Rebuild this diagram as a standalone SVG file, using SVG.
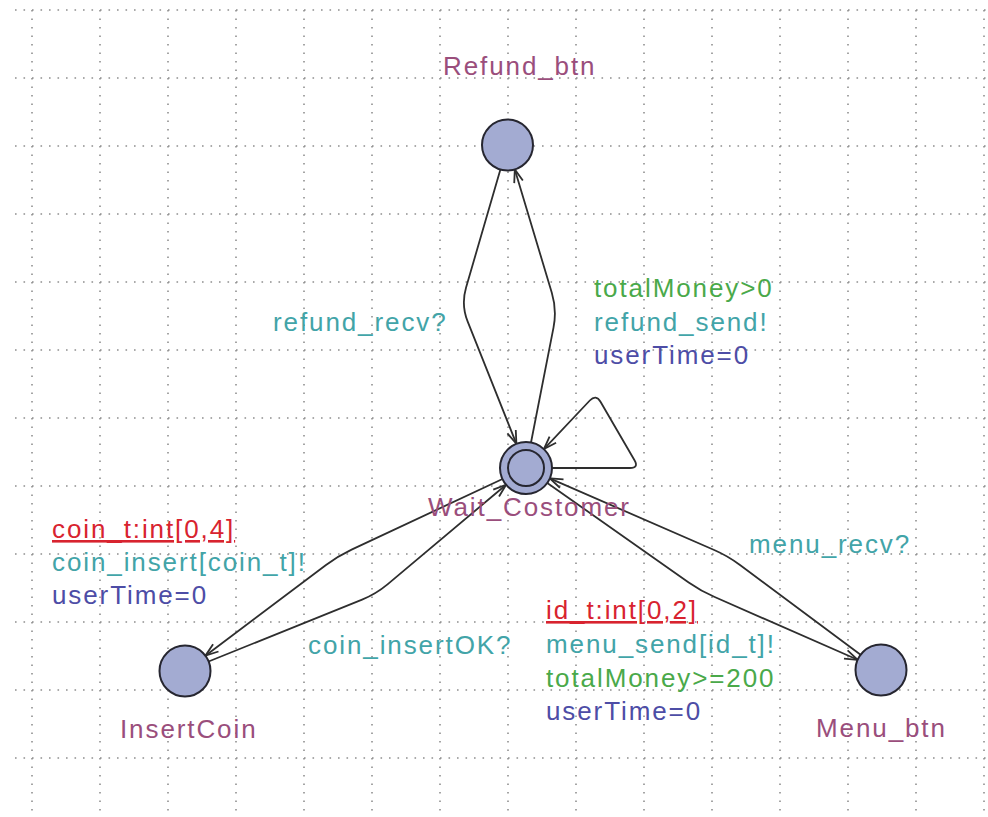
<svg xmlns="http://www.w3.org/2000/svg" width="988" height="817" viewBox="0 0 988 817">
  <defs>
    <style>
      .grid{fill:none;stroke:#8f8f8f;stroke-width:1.6;stroke-dasharray:1.6 6.9}
      .loc{fill:#a3abd2;stroke:#262630;stroke-width:2}
      .edge{fill:none;stroke:#2e2e2e;stroke-width:1.8;marker-end:url(#arr)}
      text{font-family:"Liberation Sans",Arial,sans-serif;font-size:26px;letter-spacing:1.9px}
      .name{fill:#9a4e7c}
      .sel{fill:#d8232f;text-decoration:underline}
      .sync{fill:#42a4a8}
      .guard{fill:#4aa94a}
      .assign{fill:#4d4da6}
    </style>
    <marker id="arr" markerUnits="userSpaceOnUse" markerWidth="20" markerHeight="20" viewBox="-15 -10 20 20" refX="0" refY="0" orient="auto" overflow="visible">
      <path d="M-13,-4.5 L0,0 L-13,4.5" fill="none" stroke="#2e2e2e" stroke-width="1.8"/>
    </marker>
  </defs>

  <rect width="988" height="817" fill="#ffffff"/>

  <!-- editor grid -->
  <g id="grid" class="grid">
    <path d="M15,10H988M15,78H988M15,146H988M15,214H988M15,282H988M15,350H988M15,418H988M15,486H988M15,554H988M15,622H988M15,690H988M15,758H988"/>
    <path d="M32,10V817M100,10V817M168,10V817M236,10V817M304,10V817M372,10V817M440,10V817M508,10V817M576,10V817M644,10V817M712,10V817M780,10V817M848,10V817M916,10V817M984,10V817"/>
  </g>

  <!-- transitions -->
  <g id="edges">
    <path id="e_refund_recv" class="edge" d="M500.4,169.5 L466,287.7 Q461,305 467.7,321.7 L516.4,443.8"/>
    <path id="e_refund_send" class="edge" d="M531,442.5 L553.5,327.7 Q557,310 551.8,292.8 L514.8,169.4"/>
    <path id="e_loop" class="edge" d="M552,468 L630,468 Q639,468 634.5,460.2 L600.5,401.8 Q596,394 589.8,400.5 L543.9,449.1"/>
    <path id="e_coin_insert" class="edge" d="M502.5,479 L351.6,549.6 Q338,556 326,565 L205.4,655.7"/>
    <path id="e_coin_ok" class="edge" d="M208.6,661.5 L362.1,599.6 Q376,594 387.5,584.4 L506.1,484.7"/>
    <path id="e_menu_recv" class="edge" d="M860.6,654.8 L740,565 Q728,556 714.2,550 L549.8,478.4"/>
    <path id="e_menu_send" class="edge" d="M547.3,483 L688.7,582.4 Q701,591 714.7,597 L857.7,659.8"/>
  </g>

  <!-- transition labels -->
  <g id="edge-labels">
    <text class="sync" x="273" y="331">refund_recv?</text>
    <text class="guard" x="594" y="297">totalMoney&gt;0</text>
    <text class="sync" x="594" y="331">refund_send!</text>
    <text class="assign" x="594" y="364">userTime=0</text>

    <text class="sel" x="52" y="538">coin_t:int[0,4]</text>
    <text class="sync" x="52" y="571">coin_insert[coin_t]!</text>
    <text class="assign" x="52" y="604">userTime=0</text>

    <text class="sync" x="308" y="654">coin_insertOK?</text>

    <text class="sync" x="749" y="553">menu_recv?</text>

    <text class="sel" x="546" y="619">id_t:int[0,2]</text>
    <text class="sync" x="546" y="653">menu_send[id_t]!</text>
    <text class="guard" x="546" y="687">totalMoney&gt;=200</text>
    <text class="assign" x="546" y="720">userTime=0</text>
  </g>

  <!-- locations -->
  <g id="Refund_btn">
    <circle class="loc" cx="507.5" cy="145" r="25.5"/>
    <text class="name" x="443" y="75">Refund_btn</text>
  </g>
  <g id="Wait_Costomer">
    <circle class="loc" cx="526" cy="468" r="26"/>
    <circle class="loc" cx="526" cy="468" r="18"/>
    <text class="name" x="428" y="516">Wait_Costomer</text>
  </g>
  <g id="InsertCoin">
    <circle class="loc" cx="185" cy="671" r="25.5"/>
    <text class="name" x="120" y="738">InsertCoin</text>
  </g>
  <g id="Menu_btn">
    <circle class="loc" cx="881" cy="670" r="25.5"/>
    <text class="name" x="816" y="737">Menu_btn</text>
  </g>
</svg>
